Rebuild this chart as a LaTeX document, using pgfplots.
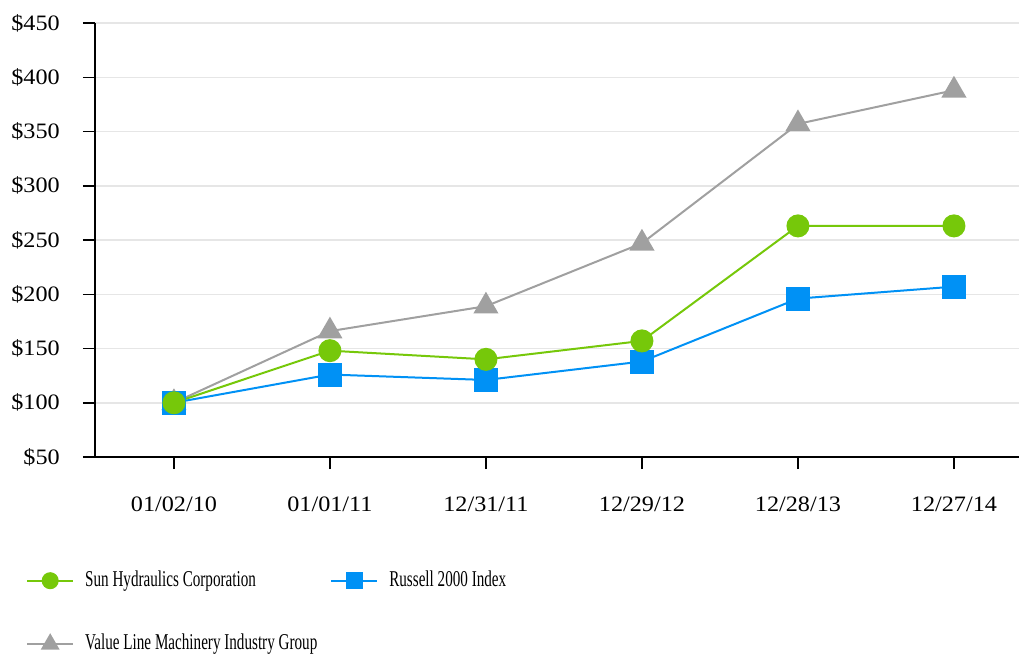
\documentclass[border=0pt]{standalone}
\usepackage{pgfplots}
\pgfplotsset{compat=1.18}
\usepackage{fontspec}
\setmainfont{Liberation Serif}
\newfontfamily\legfont{Liberation Serif}[FakeStretch=0.67]
\newfontfamily\tickfont{Liberation Serif}[FakeStretch=1.1]
\definecolor{sungreen}{RGB}{118,200,10}
\definecolor{rusblue}{RGB}{0,145,245}
\definecolor{vlgray}{RGB}{160,160,160}
\definecolor{gridgray}{RGB}{230,230,230}
\begin{document}
\begin{tikzpicture}
\begin{axis}[
  name=ax,
  at={(0,0)}, anchor=south west,
  scale only axis,
  width=924pt, height=434pt,
  xmin=-0.506, xmax=5.417,
  ymin=50, ymax=450,
  axis x line*=bottom, axis y line*=left,
  axis line style={-, line width=2.5pt, black},
  xtick={0,1,2,3,4,5},
  xticklabels={01/02/10,01/01/11,12/31/11,12/29/12,12/28/13,12/27/14},
  ytick={50,100,150,200,250,300,350,400,450},
  yticklabels={\$50,\$100,\$150,\$200,\$250,\$300,\$350,\$400,\$450},
  /pgf/number format/assume math mode=true,
  tick align=outside,
  major tick length=12pt,
  tick style={black, line width=1.5pt},
  ymajorgrids,
  grid style={gridgray, line width=1.5pt},
  ticklabel style={font=\tickfont\fontsize{22}{26}\selectfont, inner sep=0pt},
  xticklabel style={anchor=north, yshift=-28pt},
  yticklabel style={anchor=east, xshift=-23pt},
  clip=false,
  legend columns=2,
  legend cell align=left,
  legend style={at={(0,0)}, anchor=north west, xshift=-69pt, yshift=-113pt,
    draw=none, fill=none, inner sep=0pt,
    font=\legfont\fontsize{22.6}{26}\selectfont,
    nodes={inner sep=0pt, text height=16pt, text depth=5pt},
    row sep=42.5pt,
    /tikz/every odd column/.append style={column sep=11pt},
    /tikz/every even column/.append style={column sep=13pt}},
  legend image code/.code={%
    \draw[mark repeat=2, mark phase=2] plot coordinates {(0pt,0pt) (23pt,0pt) (46pt,0pt)};},
]
\addlegendimage{sungreen, line width=2pt, mark=*, mark size=7.5pt, mark options={fill=sungreen, draw=sungreen}}
\addlegendentry{Sun Hydraulics Corporation}
\addlegendimage{rusblue, line width=2pt, mark=square*, mark size=7.5pt, mark options={fill=rusblue, draw=rusblue}}
\addlegendentry{Russell 2000 Index}
\addlegendimage{vlgray, line width=2pt, mark=triangle*, mark size=9pt, mark options={fill=vlgray, draw=vlgray}}
\addlegendentry{Value Line Machinery Industry Group}

\addplot[forget plot, vlgray, line width=2pt, mark=triangle*, mark size=12.5pt, mark options={fill=vlgray, draw=vlgray}]
  coordinates {(0,100) (1,166) (2,189) (3,247) (4,357) (5,388)};
\addplot[forget plot, rusblue, line width=2pt, mark=square*, mark size=11pt, mark options={fill=rusblue, draw=rusblue}]
  coordinates {(0,100) (1,126) (2,121) (3,138) (4,196) (5,207)};
\addplot[forget plot, sungreen, line width=2pt, mark=*, mark size=10.5pt, mark options={fill=sungreen, draw=sungreen}]
  coordinates {(0,100) (1,148) (2,140) (3,157) (4,263) (5,263)};
\end{axis}
\pgfresetboundingbox
\path[use as bounding box] ([xshift=-95pt, yshift=-196pt]ax.south west) rectangle ([yshift=23pt]ax.north east);
\end{tikzpicture}
\end{document}
